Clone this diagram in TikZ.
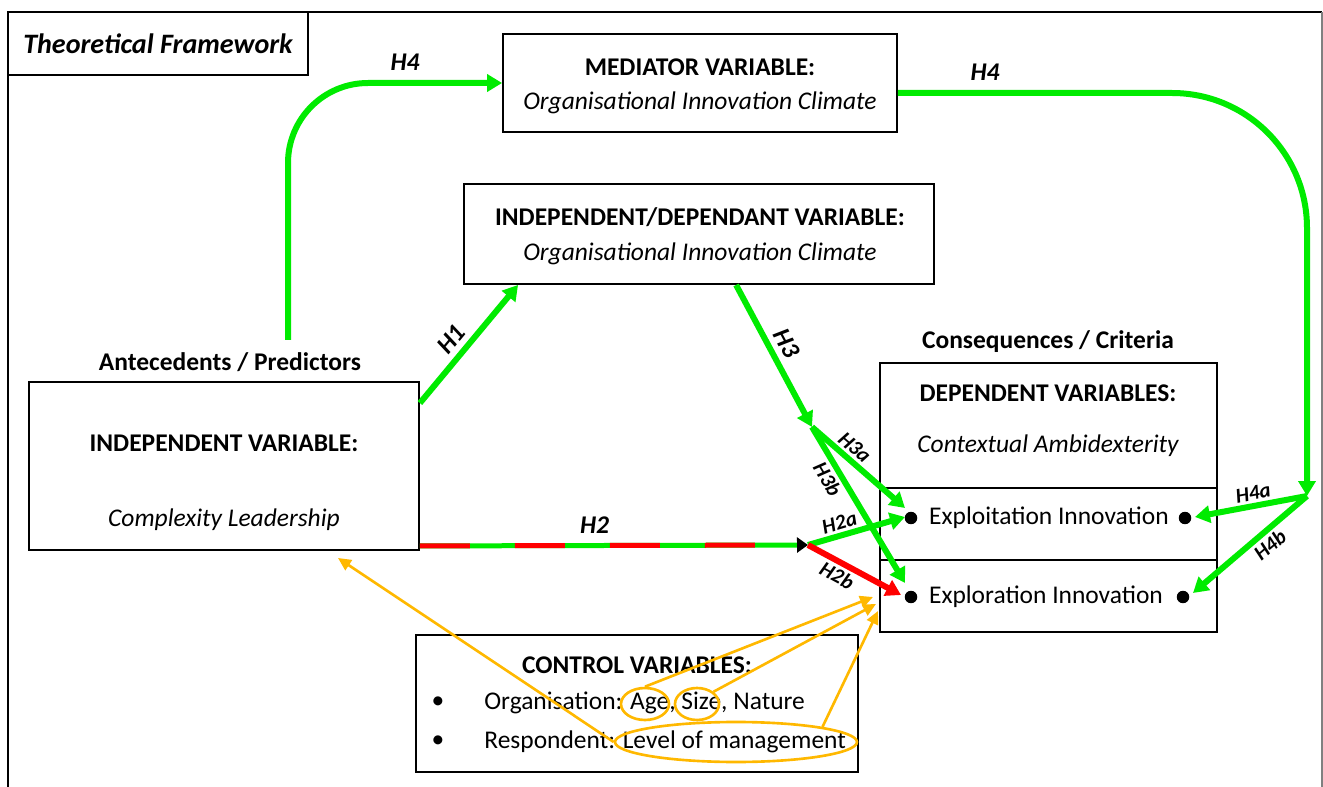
\documentclass[tikz,border=0pt]{standalone}
\usepackage{fontspec}
\setmainfont{Carlito}
\usetikzlibrary{arrows.meta, positioning, calc, shapes.geometric}

\definecolor{hgreen}{RGB}{0,235,0}
\definecolor{hred}{RGB}{255,0,0}
\definecolor{horange}{RGB}{255,184,0}

\begin{document}
\begin{tikzpicture}[
    x=0.02cm, y=-0.02cm,
    box/.style={draw, line width=1.1pt, inner sep=0pt},
    txt/.style={inner sep=0pt, font=\fontsize{14.5}{16}\selectfont},
    head/.style={txt, font=\fontsize{14.5}{16}\selectfont\bfseries},
    sub/.style={txt, font=\fontsize{14.5}{16}\selectfont\itshape},
    dot/.style={circle, fill=black, inner sep=0pt, minimum size=0.25cm},
    ring/.style={draw=horange, ellipse, line width=1.5pt, inner sep=0pt},
    hyp/.style={hgreen, line width=0.12cm, -{Triangle[length=0.3cm, width=0.34cm]}},
    ctrl/.style={horange, line width=1.5pt, -{Triangle[length=0.26cm, width=0.24cm]}},
    hlab/.style={black, font=\fontsize{14.5}{16}\selectfont\bfseries\itshape},
    slab/.style={black, sloped, inner sep=1.5pt, font=\fontsize{12}{13}\selectfont\bfseries\itshape}
]
\useasboundingbox (0,0) rectangle (1323,787);

% Frame and title
\draw[line width=1.4pt] (8,790) -- (8,12) -- (1322,12);
\draw[gray, line width=0.6pt] (1322,12) -- (1322,790);
\node[box, minimum width=6cm, minimum height=1.26cm] (title) at (158,43.5)
    {\fontsize{16}{18}\selectfont\bfseries\itshape Theoretical Framework};

% Boxes
\node[box, minimum width=7.88cm, minimum height=1.96cm] (med) at (700,83) {};
\node[head] (medhead) at (700,67) {MEDIATOR VARIABLE:};
\node[sub] (medsub) at (700,103) {Organisational Innovation Climate};

\node[box, minimum width=9.4cm, minimum height=2cm] (idep) at (699,234) {};
\node[head] (idephead) at (700,217) {INDEPENDENT/DEPENDANT VARIABLE:};
\node[sub] (idepsub) at (700,254) {Organisational Innovation Climate};

\node[box, minimum width=7.8cm, minimum height=3.36cm] (indep) at (224,466) {};
\node[head] (antec) at (230,362) {Antecedents / Predictors};
\node[head] (indephead) at (224,443) {INDEPENDENT VARIABLE:};
\node[sub] (indepsub) at (224,520) {Complexity Leadership};

\node[box, minimum width=6.74cm, minimum height=5.38cm] (dep) at (1048.5,497.5) {};
\node[head] (conseq) at (1048,342) {Consequences / Criteria};
\node[head] (dephead) at (1048,393) {DEPENDENT VARIABLES:};
\node[sub] (depsub) at (1048,446) {Contextual Ambidexterity};
\draw[line width=0.6pt] (dep.west |- 0,488) -- (dep.east |- 0,488);
\draw[line width=0.6pt] (dep.west |- 0,560) -- (dep.east |- 0,560);
\node[txt] (exploit) at (1049,518) {Exploitation Innovation};
\node[txt] (explore) at (1046,597) {Exploration Innovation};
\node[dot] (exploitL) at (911,518) {};
\node[dot] (exploitR) at (1185,518) {};
\node[dot] (exploreL) at (911,597) {};
\node[dot] (exploreR) at (1183,597) {};

\node[box, minimum width=8.84cm, minimum height=2.74cm] (ctrlbox) at (637,703.5) {};
\node[head] (ctrlhead) at (637,665) {CONTROL VARIABLES:};
\node[txt] (bullA) at (438,703) {\textbullet};
\node[txt] (bullB) at (438,742) {\textbullet};
\node[txt, anchor=west] (orgtxt) at (484,703) {Organisation: Age, Size, Nature};
\node[txt, anchor=west] (restxt) at (484,742) {Respondent: Level of management};
\node[ring, minimum width=0.96cm, minimum height=0.64cm] (agering) at (645,704) {};
\node[ring, minimum width=0.88cm, minimum height=0.64cm] (sizering) at (697,704) {};
\node[ring, minimum width=4.84cm, minimum height=0.8cm] (lvlring) at (736,742) {};

% Hubs and free ends
\coordinate (h4start) at (288,340);
\coordinate (h3hub) at (812,427);
\coordinate (h2hub) at (808,545);
\coordinate (h4hub) at (1307,496);
\coordinate (h2start) at ($(indep.south east)+(0,-5)$);
\coordinate (ctrlA) at (873,597);
\coordinate (ctrlB) at (876,604);
\coordinate (ctrlC) at (878,611);
\coordinate (ctrlLead) at (338,558);

% H4 through the mediator
\draw[hyp, rounded corners=1.6cm] (h4start) |- (med.west);
\node[hlab] (h4a) at (405,62) {H4};
\draw[hyp, rounded corners=2.7cm] ($(med.east)+(0,10)$) -- (1307,93) -- (h4hub);
\node[hlab] (h4b) at (985,72) {H4};
\draw[hyp] (h4hub) -- node[slab, pos=0.46, above] {H4a} ($(exploitR)+(10,-1)$);
\draw[hyp] (h4hub) -- node[slab, pos=0.4, below] {H4b} ($(exploreR)+(10,-4)$);

% H1 and H3
\draw[hyp] ($(indep.north east)+(0,22)$) -- node[hlab, sloped, pos=0.45, above] {H1} ($(idep.south west)+(55,0)$);
\draw[hyp] ($(idep.south west)+(273,0)$) -- node[hlab, sloped, pos=0.47, above] {H3} (h3hub);
\draw[hyp] (h3hub) -- node[slab, pos=0.37, above] {H3a} ($(exploitL)+(-6,-10)$);
\draw[hyp] (h3hub) -- node[slab, pos=0.29, below] {H3b} ($(exploreL)+(-6,-14)$);

% H2
\draw[hgreen, line width=0.1cm, -{Triangle[black, length=0.22cm, width=0.3cm]}] (h2start) -- node[hlab, pos=0.45, above=2pt] {H2} (h2hub);
\draw[hred, line width=0.1cm, dash pattern=on 1cm off 0.9cm, shorten >=0.22cm] (h2start) -- (h2hub);
\draw[hyp] (h2hub) -- node[slab, pos=0.36, above] {H2a} ($(exploitL)+(-6,-1)$);
\draw[hred, line width=0.12cm, -{Triangle[length=0.3cm, width=0.34cm]}] (h2hub) -- node[slab, pos=0.38, below] {H2b} ($(exploreL)+(-10,-2)$);

% Control variables
\draw[ctrl] (agering.north) -- (ctrlA);
\draw[ctrl] (sizering.north east) -- (ctrlB);
\draw[ctrl] (lvlring.north east) -- (ctrlC);
\draw[ctrl] (lvlring.west) -- (ctrlLead);

\end{tikzpicture}
\end{document}
